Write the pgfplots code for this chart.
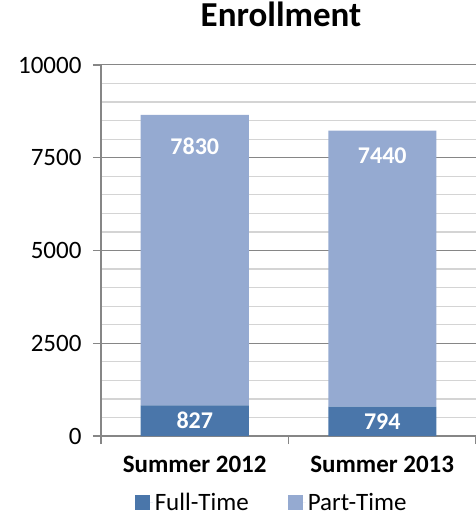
\documentclass[border=0pt]{standalone}
\usepackage{pgfplots}
\pgfplotsset{compat=1.18}
\usepackage{pgfplotstable}
\usepackage{fontspec}
\setmainfont{Carlito}
\definecolor{ft}{HTML}{4A76AA}
\definecolor{pt}{HTML}{95AAD1}
\definecolor{axgray}{HTML}{868686}
\definecolor{mingray}{HTML}{D4D4D4}

\pgfplotstableread{
x ft pt ftsh ptsh
0 827 7830 0 114
1 794 7440 0 113
}\enroll

\begin{document}
\begin{tikzpicture}
\useasboundingbox (-101bp,-81bp) rectangle (375bp,436bp);
\begin{axis}[
 at={(0,0)}, anchor=south west,
 scale only axis, width=375bp, height=371bp,
 ybar stacked, bar width=108bp,
 xmin=-0.5, xmax=1.5, ymin=0, ymax=10000,
 enlargelimits=false,
 axis x line*=bottom, axis y line*=left,
 axis line style={axgray, line width=1.2bp},
 tick align=outside, major tick length=8bp, minor tick length=0pt,
 tick style={axgray, line width=1.2bp},
 ytick={0,2500,5000,7500,10000},
 scaled y ticks=false,
 minor y tick num=4,
 ymajorgrids, yminorgrids,
 major grid style={axgray, line width=1bp},
 minor grid style={mingray, line width=1.2bp},
 /pgf/number format/assume math mode=true,
 /pgf/number format/1000 sep={},
 y tick label style={font=\fontsize{25bp}{30bp}\selectfont, text=black, xshift=-8bp},
 xtick={-0.5,0.5,1.5}, xticklabels={},
 extra x ticks={0,1}, extra x tick labels={Summer 2012, Summer 2013},
 extra x tick style={major tick length=0pt, grid=none,
   tick label style={font=\fontsize{25bp}{30bp}\selectfont\bfseries, text=black, yshift=-17bp}},
 title={Enrollment},
 title style={at={(axis description cs:0.48,1.121)}, anchor=center, font=\fontsize{35bp}{40bp}\selectfont\bfseries},
 legend style={at={(axis description cs:0.455,-0.180)}, anchor=center, draw=none, fill=none,
   legend columns=2, font=\fontsize{25bp}{30bp}\selectfont,
   /tikz/every even column/.append style={column sep=37bp}},
 legend image code/.code={\fill[#1] (0bp,-7.5bp) rectangle (15bp,7.5bp); \path (0bp,0bp) -- (18bp,0bp);},
 nodes near coords={\pgfmathprintnumber{\pgfplotspointmeta}},
 point meta=explicit,
]
\addplot[fill=ft, draw=none,
  visualization depends on={\thisrow{ftsh} \as \sh},
  every node near coord/.append style={anchor=center, yshift={\sh*1bp}, text=white, font=\fontsize{24bp}{28bp}\selectfont\bfseries}]
  table[x=x, y=ft, meta=ft] {\enroll};
\addlegendentry{Full-Time}
\addplot[fill=pt, draw=none,
  visualization depends on={\thisrow{ptsh} \as \sh},
  every node near coord/.append style={anchor=center, yshift={\sh*1bp}, text=white, font=\fontsize{24bp}{28bp}\selectfont\bfseries}]
  table[x=x, y=pt, meta=pt] {\enroll};
\addlegendentry{Part-Time}
\end{axis}
\end{tikzpicture}
\end{document}
